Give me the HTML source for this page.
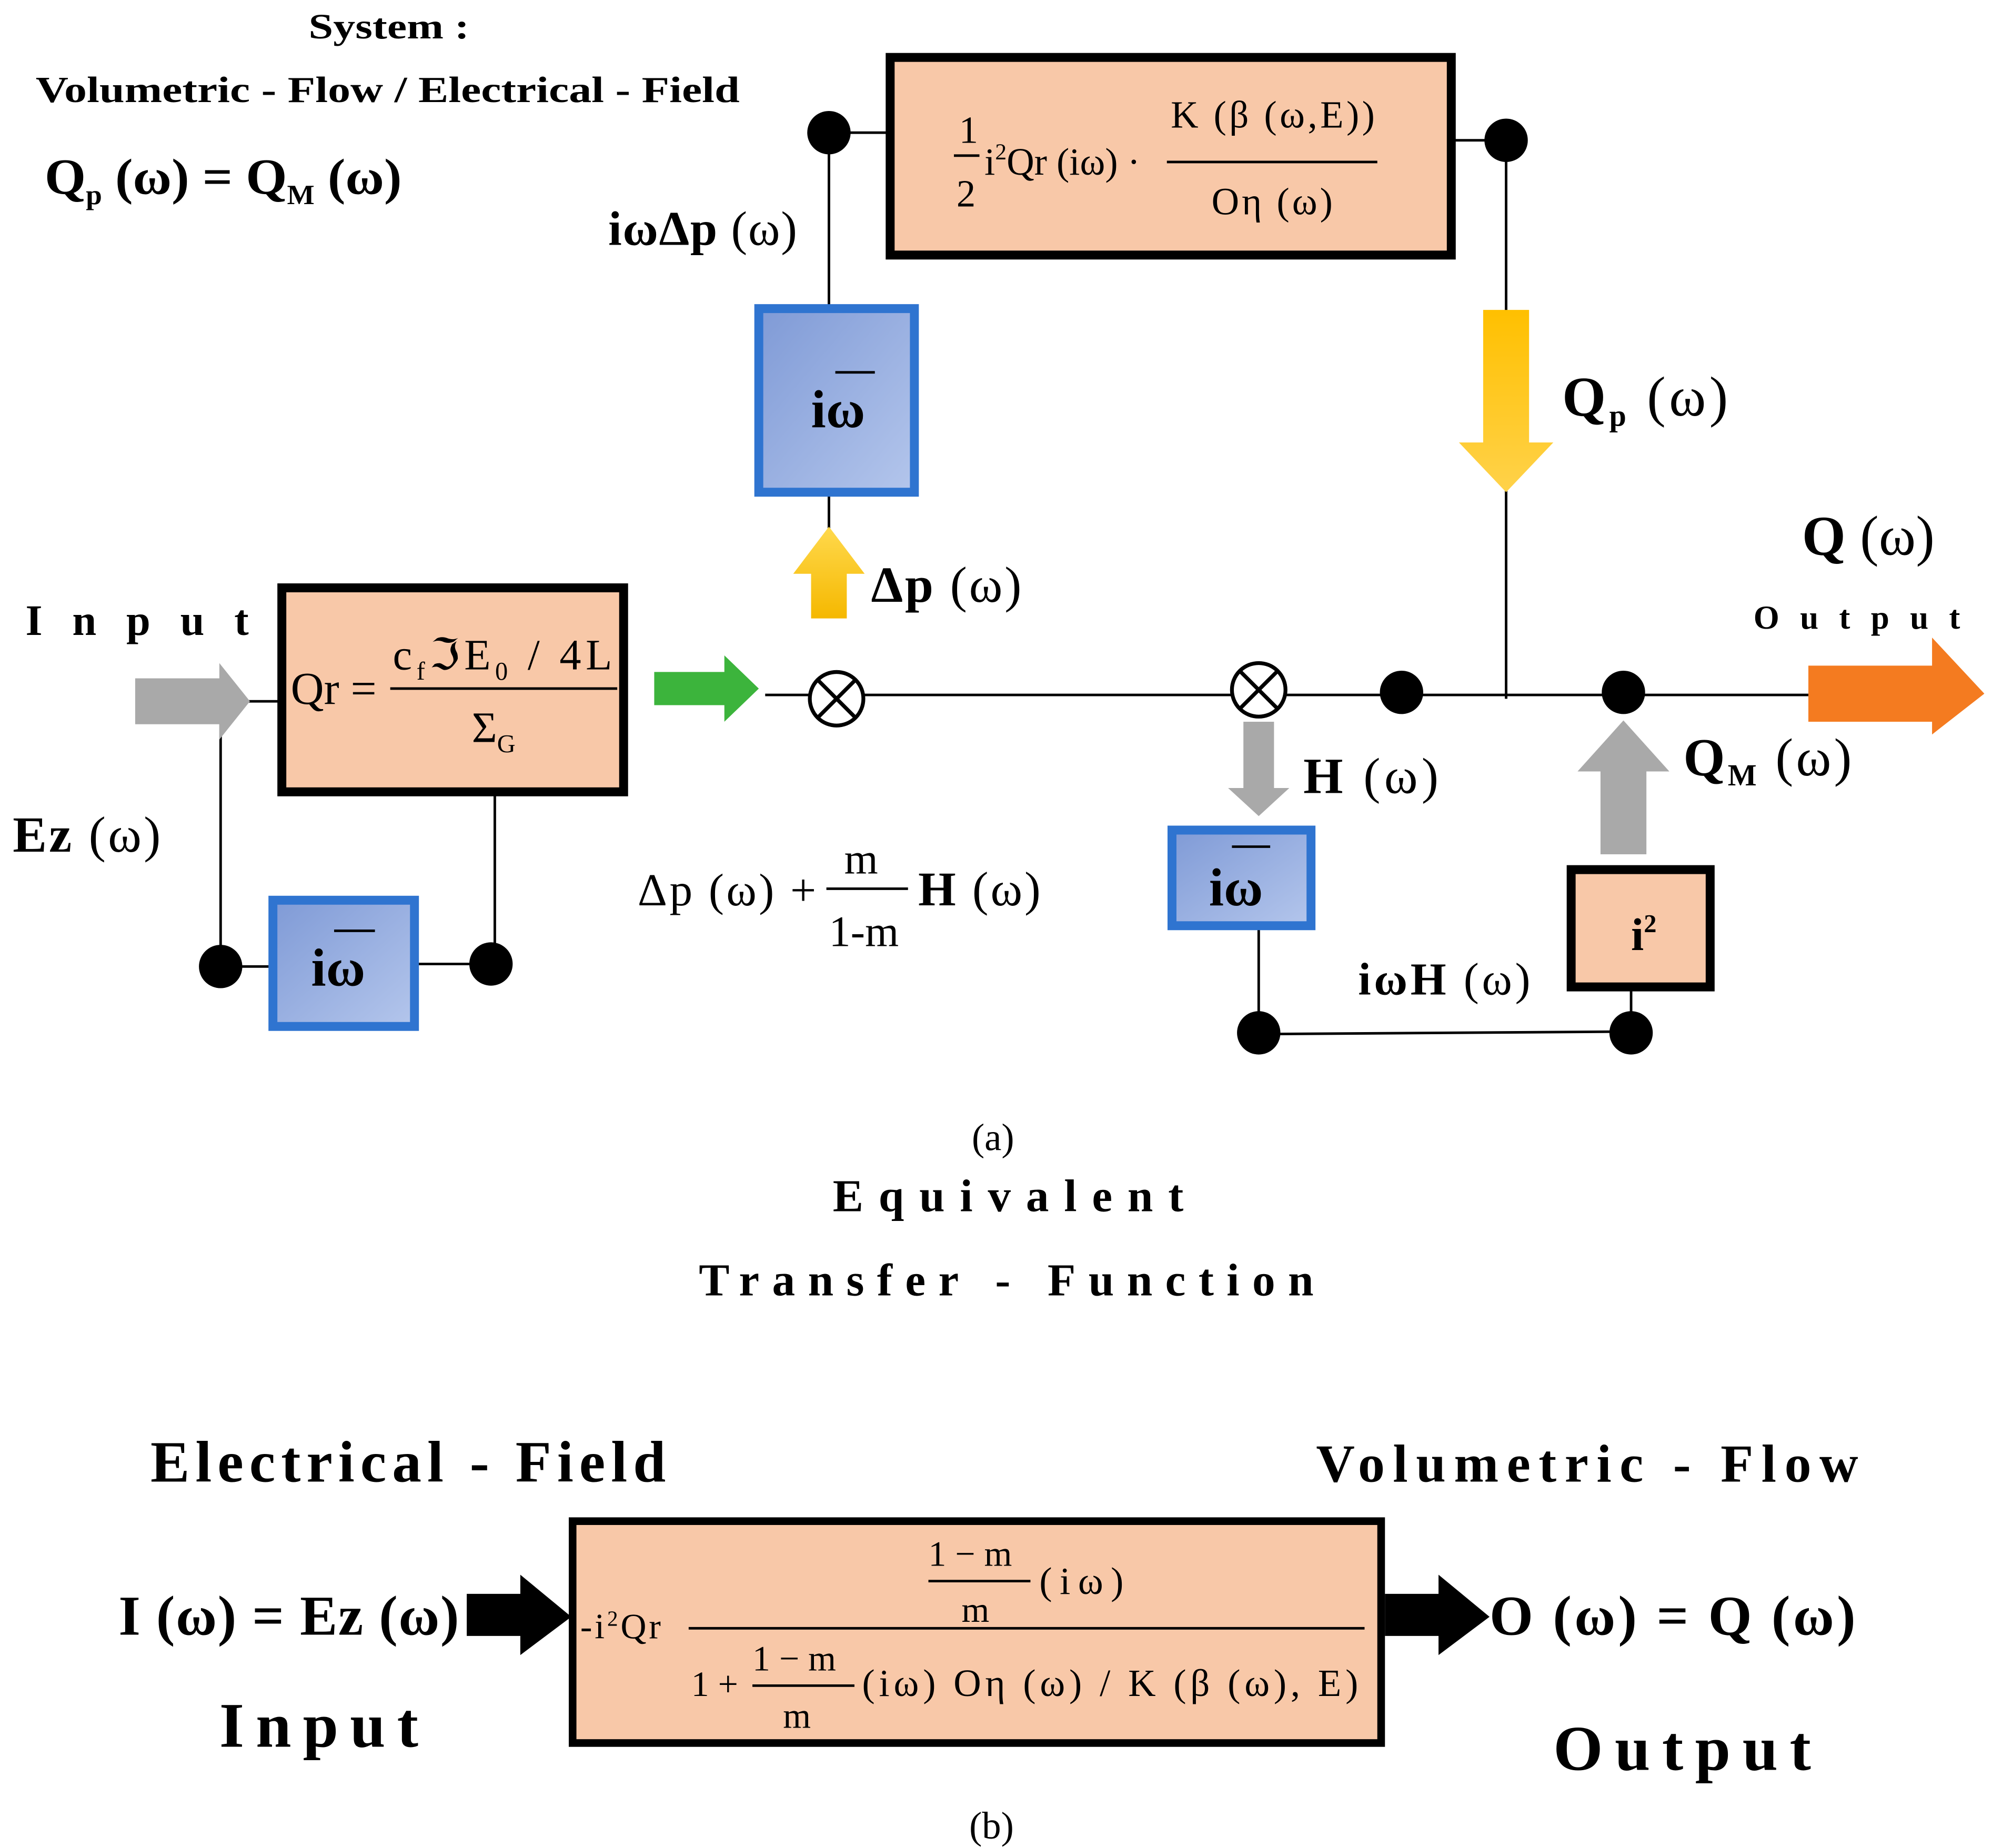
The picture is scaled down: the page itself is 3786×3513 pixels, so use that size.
<!DOCTYPE html>
<html><head><meta charset="utf-8"><style>
html,body{margin:0;padding:0;background:#fff;}
svg{display:block;}
text{font-family:"Liberation Serif",serif;fill:#000;}
.b{font-weight:bold;}
</style></head><body>
<svg width="3786" height="3513" viewBox="0 0 1562 1449.3" xmlns="http://www.w3.org/2000/svg">
<defs>
<linearGradient id="bl" x1="0" y1="0" x2="1" y2="1"><stop offset="0" stop-color="#7f9ad6"/><stop offset="1" stop-color="#b4c6ec"/></linearGradient>
<linearGradient id="yl" x1="0" y1="0" x2="0" y2="1"><stop offset="0" stop-color="#ffc000"/><stop offset="1" stop-color="#ffd24a"/></linearGradient>
<linearGradient id="yu" x1="0" y1="1" x2="0" y2="0"><stop offset="0" stop-color="#f5b800"/><stop offset="1" stop-color="#ffd94d"/></linearGradient>
</defs>
<text x="242" y="30" font-size="28" class="b" textLength="126" lengthAdjust="spacingAndGlyphs">System :</text>
<text x="28" y="80" font-size="29" class="b" textLength="552" lengthAdjust="spacingAndGlyphs">Volumetric - Flow / Electrical - Field</text>
<text x="35" y="152" font-size="40" class="b" textLength="280" lengthAdjust="spacingAndGlyphs">Q<tspan font-size="22" dy="8">p</tspan><tspan dy="-8"> (ω) = Q</tspan><tspan font-size="22" dy="8">M</tspan><tspan dy="-8"> (ω)</tspan></text>

<g stroke="#000" stroke-width="2" fill="none">
<line x1="650" y1="104" x2="697" y2="104"/>
<line x1="650" y1="104" x2="650" y2="242"/>
<line x1="1138" y1="110" x2="1181" y2="110"/>
<line x1="1181" y1="110" x2="1181" y2="548"/>
<line x1="600" y1="545" x2="1420" y2="545"/>
<line x1="650" y1="386" x2="650" y2="420"/>
<line x1="195" y1="550" x2="220" y2="550"/>
<line x1="173" y1="550" x2="173" y2="758"/>
<line x1="173" y1="758" x2="213" y2="758"/>
<line x1="326" y1="756" x2="385" y2="756"/>
<line x1="388" y1="622" x2="388" y2="756"/>
<line x1="987" y1="727" x2="987" y2="810"/>
<line x1="987" y1="811" x2="1279" y2="809"/>
<line x1="1279" y1="775" x2="1279" y2="810"/>
</g>

<rect x="698" y="45" width="440" height="155" fill="#f8c8a8" stroke="#000" stroke-width="7"/>
<text x="752" y="112" font-size="30">1</text>
<line x1="748" y1="122" x2="768" y2="122" stroke="#000" stroke-width="2"/>
<text x="750" y="162" font-size="30">2</text>
<text x="772" y="137" font-size="30">i<tspan font-size="18" dy="-12">2</tspan><tspan dy="12">Qr (iω) ·</tspan></text>
<text x="918" y="100" font-size="30" textLength="160">K (β (ω,E))</text>
<line x1="915" y1="127" x2="1080" y2="127" stroke="#000" stroke-width="2"/>
<text x="950" y="168" font-size="30" textLength="95">Oη (ω)</text>

<g fill="#000">
<circle cx="650" cy="104" r="17"/><circle cx="1181" cy="110" r="17"/>
<circle cx="1099" cy="543" r="17"/><circle cx="1273" cy="543" r="17"/>
<circle cx="173" cy="758" r="17"/><circle cx="385" cy="756" r="17"/>
<circle cx="987" cy="810" r="17"/><circle cx="1279" cy="810" r="17"/>
</g>

<text x="477" y="192" font-size="38" class="b" textLength="148">iωΔp<tspan font-weight="normal"> (ω)</tspan></text>

<rect x="595" y="242" width="122" height="144" fill="url(#bl)" stroke="#2f74d0" stroke-width="7"/>
<text x="636" y="335" font-size="42" class="b">iω</text>
<line x1="655" y1="292" x2="686" y2="292" stroke="#000" stroke-width="2"/>

<polygon points="636,485 664,485 664,450 678,450 650,413 622,450 636,450" fill="url(#yu)"/>
<text x="683" y="472" font-size="40" class="b" textLength="118">Δp<tspan font-weight="normal"> (ω)</tspan></text>

<polygon points="1163,243 1199,243 1199,347 1218,347 1181,386 1144,347 1163,347" fill="url(#yl)"/>
<text x="1225" y="326" font-size="44" class="b" textLength="130">Q<tspan font-size="24" dy="8">p</tspan><tspan dy="-8" font-weight="normal"> (ω)</tspan></text>

<text x="1413" y="435" font-size="44" class="b" textLength="104">Q<tspan font-weight="normal"> (ω)</tspan></text>
<text x="1375" y="493" font-size="26" class="b" textLength="162">Output</text>

<polygon points="1418,522 1515,522 1515,500 1556,544 1515,576 1515,566 1418,566" fill="#f47b20"/>

<text x="20" y="498" font-size="34" class="b" textLength="175">Input</text>
<polygon points="106,532 172,532 172,520 196,550 172,580 172,568 106,568" fill="#a9a9a9"/>
<text x="10" y="668" font-size="40" class="b" textLength="116">Ez<tspan font-weight="normal"> (ω)</tspan></text>

<rect x="221" y="461" width="268" height="160" fill="#f8c8a8" stroke="#000" stroke-width="7"/>
<text x="228" y="552" font-size="36">Qr =</text>
<text x="308" y="525" font-size="34" textLength="172">c<tspan font-size="20" dy="8">f</tspan><tspan dy="-8">ℑE</tspan><tspan font-size="20" dy="8">0</tspan><tspan dy="-8"> / 4L</tspan></text>
<line x1="306" y1="540" x2="484" y2="540" stroke="#000" stroke-width="2"/>
<text x="370" y="582" font-size="34">Σ<tspan font-size="20" dy="8">G</tspan></text>

<polygon points="513,527 568,527 568,514 595,540 568,566 568,553 513,553" fill="#3cb43c"/>

<g stroke="#000" stroke-width="3" fill="#fff">
<circle cx="656" cy="548" r="21"/><circle cx="987" cy="541" r="21"/>
<line x1="641" y1="533" x2="671" y2="563"/><line x1="671" y1="533" x2="641" y2="563"/>
<line x1="972" y1="526" x2="1002" y2="556"/><line x1="1002" y1="526" x2="972" y2="556"/>
</g>

<rect x="214" y="706" width="111" height="99" fill="url(#bl)" stroke="#2f74d0" stroke-width="7"/>
<text x="244" y="773" font-size="42" class="b">iω</text>
<line x1="262" y1="730" x2="294" y2="730" stroke="#000" stroke-width="2"/>

<text x="500" y="710" font-size="36" textLength="140">Δp (ω) +</text>
<text x="662" y="685" font-size="34">m</text>
<line x1="648" y1="697" x2="712" y2="697" stroke="#000" stroke-width="2"/>
<text x="650" y="742" font-size="34">1-m</text>
<text x="720" y="710" font-size="38" class="b" textLength="96">H<tspan font-weight="normal"> (ω)</tspan></text>

<polygon points="975,566 999,566 999,618 1011,618 987,640 963,618 975,618" fill="#a9a9a9"/>
<text x="1022" y="622" font-size="40" class="b" textLength="106">H<tspan font-weight="normal"> (ω)</tspan></text>
<rect x="919" y="651" width="109" height="75" fill="url(#bl)" stroke="#2f74d0" stroke-width="7"/>
<text x="948" y="710" font-size="42" class="b">iω</text>
<line x1="966" y1="664" x2="996" y2="664" stroke="#000" stroke-width="2"/>

<polygon points="1255,670 1291,670 1291,605 1309,605 1273,565 1237,605 1255,605" fill="#a9a9a9"/>
<text x="1320" y="608" font-size="42" class="b" textLength="132">Q<tspan font-size="24" dy="8">M</tspan><tspan dy="-8" font-weight="normal"> (ω)</tspan></text>
<rect x="1232" y="682" width="109" height="92" fill="#f8c8a8" stroke="#000" stroke-width="7"/>
<text x="1279" y="745" font-size="36" class="b">i<tspan font-size="20" dy="-14">2</tspan></text>
<text x="1065" y="780" font-size="36" class="b" textLength="135">iωH<tspan font-weight="normal"> (ω)</tspan></text>

<text x="762" y="902" font-size="30">(a)</text>
<text x="653" y="950" font-size="36" class="b" textLength="275">Equivalent</text>
<text x="548" y="1016" font-size="36" class="b" textLength="482">Transfer - Function</text>

<text x="118" y="1162" font-size="46" class="b" textLength="404">Electrical - Field</text>
<text x="1032" y="1162" font-size="42" class="b" textLength="425">Volumetric - Flow</text>
<text x="93" y="1282" font-size="44" class="b" textLength="267">I (ω) = Ez (ω)</text>
<polygon points="366,1250 408,1250 408,1235 448,1268 408,1298 408,1283 366,1283" fill="#000"/>
<rect x="449" y="1193" width="634" height="174" fill="#f8c8a8" stroke="#000" stroke-width="6"/>
<text x="455" y="1285" font-size="28" letter-spacing="2">-i<tspan font-size="17" dy="-10">2</tspan><tspan dy="10">Qr</tspan></text>
<line x1="540" y1="1277" x2="1070" y2="1277" stroke="#000" stroke-width="2"/>
<text x="728" y="1228" font-size="28">1 − m</text>
<line x1="728" y1="1240" x2="808" y2="1240" stroke="#000" stroke-width="2"/>
<text x="754" y="1272" font-size="28">m</text>
<text x="815" y="1250" font-size="30" textLength="66">(iω)</text>
<text x="542" y="1330" font-size="28">1 +</text>
<text x="590" y="1310" font-size="28">1 − m</text>
<line x1="590" y1="1322" x2="670" y2="1322" stroke="#000" stroke-width="2"/>
<text x="614" y="1355" font-size="28">m</text>
<text x="676" y="1330" font-size="30" textLength="389">(iω) Oη (ω) / K (β (ω), E)</text>
<polygon points="1086,1250 1128,1250 1128,1235 1168,1268 1128,1298 1128,1283 1086,1283" fill="#000"/>
<text x="1168" y="1282" font-size="44" class="b" textLength="287">O (ω) = Q (ω)</text>
<text x="172" y="1370" font-size="50" class="b" textLength="156">Input</text>
<text x="1218" y="1388" font-size="50" class="b" textLength="202">Output</text>
<text x="760" y="1442" font-size="30">(b)</text>
</svg>
</body></html>
